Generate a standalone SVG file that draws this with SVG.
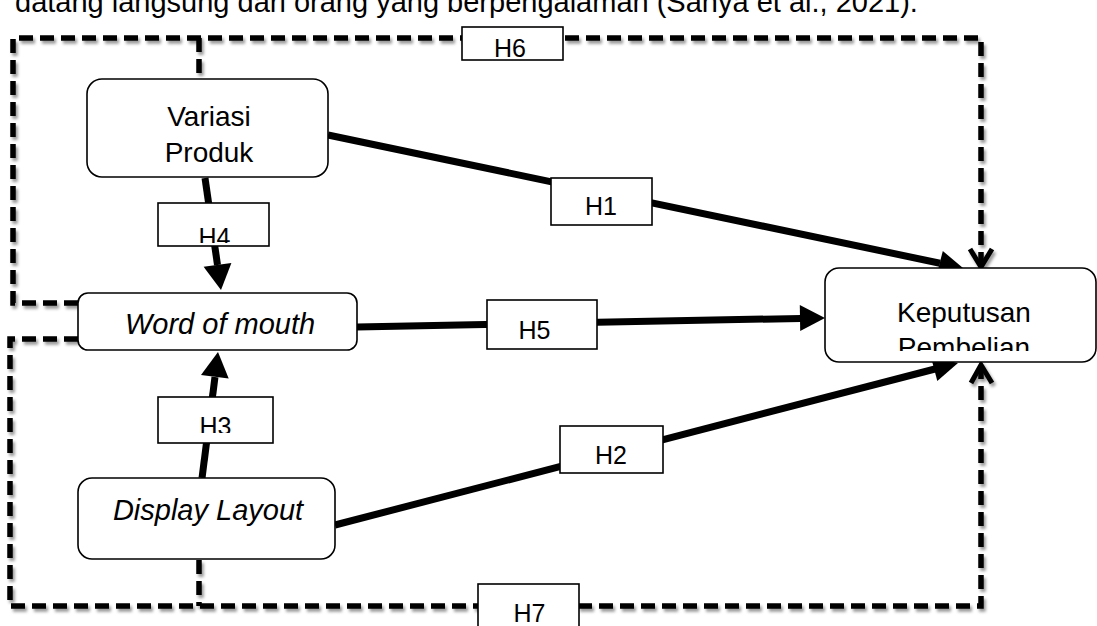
<svg xmlns="http://www.w3.org/2000/svg" width="1097" height="626" viewBox="0 0 1097 626">
<style>
text{font-family:"Liberation Sans",Arial,sans-serif;fill:#000}
.node{fill:#fff;stroke:#000;stroke-width:1.6}
.lbl{fill:#fff;stroke:#000;stroke-width:1.6}
.t{font-size:28px;text-anchor:middle}
.ti{font-size:29px;font-style:italic;text-anchor:middle}
.tl{font-size:25px;text-anchor:middle}
.dash{fill:none;stroke:#000;stroke-width:5.5;stroke-dasharray:14 7}
.chev{fill:none;stroke:#000;stroke-width:5;stroke-linejoin:miter}
.sol{stroke:#000;stroke-width:7;fill:none}
.head{fill:#000}
</style>
<defs>
<filter id="sh" filterUnits="userSpaceOnUse" x="0" y="0" width="1097" height="626">
<feDropShadow dx="2" dy="3" stdDeviation="1.6" flood-color="#000" flood-opacity="0.4"/>
</filter>
<clipPath id="cH6"><rect x="462" y="27" width="101" height="30"/></clipPath>
<clipPath id="cH4"><rect x="158" y="203" width="111" height="40"/></clipPath>
<clipPath id="cH3"><rect x="158" y="397" width="115" height="36"/></clipPath>
<clipPath id="cKP"><rect x="825" y="268" width="272" height="83"/></clipPath>
</defs>

<text x="15" y="12" style="font-size:29px">datang langsung dari orang yang berpengalaman (Sanya et al., 2021).</text>

<g id="connectors">
<g filter="url(#sh)">
<path class="dash" d="M78,303 H13 V38 H981 V266"/>
<path class="dash" d="M199,38 V79"/>
<path class="dash" d="M78,339 H10 V606 H981 V366"/>
<path class="dash" d="M199,560 V606"/>
<path class="chev" d="M970,249 L981,267 L992,249"/>
<path class="chev" d="M971,383 L981,365 L992,383"/>
</g>
<path class="sol" d="M328,135 L940,263.2"/>
<polygon class="head" points="963,268 936.6,275.4 942.8,251.0"/>
<path class="sol" d="M357,327 L801,318.4"/>
<polygon class="head" points="825,318 800.2,331 799.8,305"/>
<path class="sol" d="M335,525 L935,369"/>
<polygon class="head" points="958,363 937.3,381 931,357.2"/>
<path class="sol" d="M205,178 L217.5,265"/>
<polygon class="head" points="221,290 203.6,266.8 231.4,263"/>
<path class="sol" d="M202,478 L215,377"/>
<polygon class="head" points="218,352 228.7,378.5 201,375"/>
</g>

<g id="label-H6"><rect class="lbl" x="462" y="27" width="101" height="33"/><text class="tl" x="510" y="57" clip-path="url(#cH6)">H6</text></g>
<g id="label-H1"><rect class="lbl" x="551" y="178" width="101" height="47"/><text class="tl" x="601" y="215">H1</text></g>
<g id="label-H4"><rect class="lbl" x="158" y="203" width="111" height="43"/><text class="tl" x="214.5" y="246" clip-path="url(#cH4)">H4</text></g>
<g id="label-H5"><rect class="lbl" x="487" y="300" width="110" height="49"/><text class="tl" x="534.5" y="339">H5</text></g>
<g id="label-H3"><rect class="lbl" x="158" y="397" width="115" height="46"/><text class="tl" x="215.5" y="435" clip-path="url(#cH3)">H3</text></g>
<g id="label-H2"><rect class="lbl" x="560" y="426" width="103" height="47"/><text class="tl" x="611" y="464">H2</text></g>
<g id="label-H7"><rect class="lbl" x="478" y="584" width="101" height="50"/><text class="tl" x="529.5" y="622">H7</text></g>

<g id="node-variasi-produk"><rect class="node" x="87" y="79" width="241" height="98" rx="15"/><text class="t" x="209" y="126">Variasi</text><text class="t" x="209" y="162">Produk</text></g>
<g id="node-word-of-mouth"><rect class="node" x="78" y="293" width="279" height="57" rx="10"/><text class="ti" x="220" y="334">Word of mouth</text></g>
<g id="node-display-layout"><rect class="node" x="78" y="478" width="257" height="81" rx="14"/><text class="ti" x="208" y="520">Display Layout</text></g>
<g id="node-keputusan-pembelian"><rect class="node" x="825" y="268" width="271" height="94" rx="14"/><text class="t" x="964" y="322">Keputusan</text><text class="t" x="964" y="357" clip-path="url(#cKP)">Pembelian</text></g>
</svg>
